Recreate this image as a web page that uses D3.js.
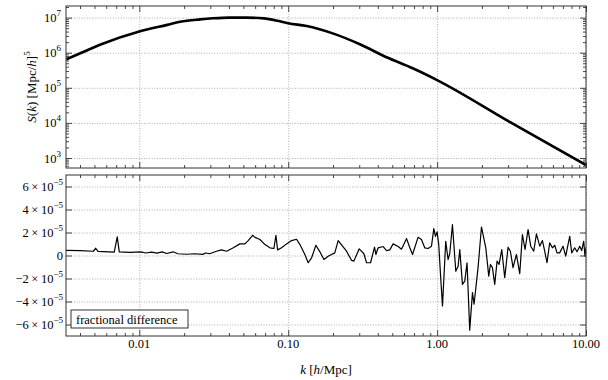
<!DOCTYPE html>
<html>
<head>
<meta charset="utf-8">
<script src="https://cdn.jsdelivr.net/npm/d3@7"></script>
<style>
  body { margin: 0; background: #fff; }
  .grid line { stroke: #999; stroke-dasharray: 1, 1.6; stroke-width: 0.8; }
  .grid .domain, .ticks .domain { display: none; }
  .ticks line { stroke: #333; stroke-width: 0.9; }
</style>
</head>
<body>
<script>
// ==================== Data ============================
// Top panel: S(k)
const kS = [0.00324, 0.0042, 0.0055, 0.01, 0.0154, 0.0188, 0.0256, 0.0313, 0.0404, 0.0525, 0.0686,
            0.085, 0.1, 0.133, 0.199, 0.303, 0.458, 0.686, 1.0, 3.07, 10];
const S  = [6.5e5, 1.05e6, 1.71e6, 4.0e6, 6.2e6, 7.6e6, 8.9e6, 9.55e6, 1.0e7, 1.0e7, 9.5e6,
            8.1e6, 6.9e6, 5.75e6, 3.55e6, 1.74e6, 7.4e5, 3.6e5, 1.66e5, 1.07e4, 630];

// Bottom panel: fractional difference, in units of 1e-5
const kD = [0.00322, 0.0040, 0.00491, 0.0051, 0.00528, 0.00679, 0.00711, 0.00734, 0.00865, 0.01026,
            0.01107, 0.0121, 0.01312, 0.01425, 0.0153, 0.01687, 0.01815, 0.02075, 0.0236, 0.0267,
            0.0279, 0.0297, 0.033, 0.0356, 0.0386, 0.0428, 0.0474, 0.0512, 0.0539, 0.0577,
            0.0598, 0.0646, 0.0698, 0.0754, 0.0802, 0.0827, 0.0849, 0.0903, 0.0975, 0.1054,
            0.1138, 0.1199, 0.1294, 0.1362, 0.1436, 0.1535, 0.1633, 0.1738, 0.1855, 0.2056,
            0.2166, 0.2317, 0.2466, 0.2666, 0.2761, 0.2998, 0.3224, 0.336, 0.3573, 0.38,
            0.388, 0.4018, 0.4345, 0.4576, 0.4813, 0.5066, 0.5474, 0.5768, 0.6237, 0.6561,
            0.6839, 0.7447, 0.7852, 0.826, 0.87, 0.917, 0.9506, 0.975, 1.0, 1.026,
            1.054, 1.087, 1.143, 1.185, 1.216, 1.268, 1.335, 1.384, 1.42, 1.48,
            1.534, 1.589, 1.656, 1.728, 1.771, 1.884, 1.986, 2.123, 2.223, 2.281,
            2.353, 2.438, 2.528, 2.608, 2.718, 2.846, 2.997, 3.106, 3.236, 3.41,
            3.589, 3.741, 3.897, 4.083, 4.255, 4.457, 4.647, 4.89, 5.097, 5.281,
            5.471, 5.704, 5.946, 6.166, 6.383, 6.653, 7.01, 7.308, 7.573, 7.776,
            8.017, 8.396, 8.703, 9.075, 9.355, 9.65, 9.85, 10.0];
const D  = [0.45, 0.42, 0.37, 0.63, 0.36, 0.29, 1.62, 0.32, 0.28, 0.32,
            0.22, 0.29, 0.20, 0.32, 0.17, 0.32, 0.15, 0.11, 0.15, 0.10,
            0.22, 0.15, 0.37, 0.49, 0.37, 0.67, 1.01, 1.01, 1.30, 1.76,
            1.58, 1.39, 0.95, 0.67, 0.61, 1.76, 0.49, 0.67, 1.01, 1.30,
            1.41, 0.95, 0.09, -0.63, -0.20, 0.89, 0.32, -0.35, -0.06, 0.23,
            1.30, 0.81, 0.37, -0.43, -0.49, 0.58, 0.15, -0.63, -0.63, 0.72,
            0.09, 0.67, 0.78, 0.43, 0.49, 1.01, 0.78, 0.55, 1.47, 0.67,
            0.09, 1.58, 1.39, 0.67, 0.61, 0.81, 2.34, 1.67, 2.05, 0.95,
            -1.65, -4.39, 1.24, -0.35, 0.15, 2.68, -1.36, -0.93, 0.52, -2.51,
            -2.23, -0.63, -6.49, -3.23, -4.24, -1.06, 2.48, 0.67, -1.79, -0.78,
            -1.06, -2.51, -0.49, -0.78, 0.52, -1.93, 0.72, 0.37, -1.06, 0.09,
            -1.58, 1.82, 0.52, 2.25, 0.81, 0.37, 1.88, 0.81, 1.30, 0.37,
            -0.63, 1.10, 0.67, 0.89, 0.23, 0.23, 0.81, -0.06, 0.95, 1.67,
            0.23, 0.67, 0.32, 0.81, 0.43, 1.24, -0.06, 0.69];

// Tick values and labels
const xTicks = [0.01, 0.1, 1, 10];
const xTickLabels = ['0.01', '0.10', '1.00', '10.00'];
const sTicks = [1e3, 1e4, 1e5, 1e6, 1e7];
const sExponents = ['3', '4', '5', '6', '7'];
const dTicks = [-6e-5, -4e-5, -2e-5, 0, 2e-5, 4e-5, 6e-5];
const dMantissas = ['\u22126', '\u22124', '\u22122', '0', '2', '4', '6'];

// ==================== Set up ============================
const W = 608, H = 380;
const left = 66, right = 586;
const top1 = 6, bot1 = 168, top2 = 175, bot2 = 336;
const serif = 'Liberation Serif';

const svg = d3.select('body').append('svg')
    .attr('width', W)
    .attr('height', H);

const x = d3.scaleLog().domain([0.00322, 10]).range([left, right]);
const yS = d3.scaleLog().domain([519, 2.14e7]).range([bot1, top1]);
const yD = d3.scaleLinear().domain([-7e-5, 7e-5]).range([bot2, top2]);

// minor ticks 2..9 x 10^n inside a domain
const minorLog = (lo, hi) => {
  const out = [];
  for (let e = Math.floor(Math.log10(lo)); e <= Math.ceil(Math.log10(hi)); e++) {
    for (let m = 2; m <= 9; m++) {
      const v = m * Math.pow(10, e);
      if (v > lo && v < hi) out.push(v);
    }
  }
  return out;
};
const minorX = minorLog(0.00322, 10);
const minorS = minorLog(519, 2.14e7);

// ==================== Panels ============================
const drawPanel = (yScale, top, bot, yMajor, yMinor) => {
  // gridlines
  svg.append('g').attr('class', 'grid')
      .attr('transform', `translate(0, ${bot})`)
      .call(d3.axisBottom(x).tickValues(xTicks).tickSize(-(bot - top)).tickFormat(''));
  svg.append('g').attr('class', 'grid')
      .attr('transform', `translate(${left}, 0)`)
      .call(d3.axisLeft(yScale).tickValues(yMajor).tickSize(-(right - left)).tickFormat(''));

  // inward ticks on all four sides
  [[xTicks, -6], [minorX, -3]].forEach(([vals, size]) => {
    svg.append('g').attr('class', 'ticks')
        .attr('transform', `translate(0, ${bot})`)
        .call(d3.axisBottom(x).tickValues(vals).tickSize(size).tickFormat(''));
    svg.append('g').attr('class', 'ticks')
        .attr('transform', `translate(0, ${top})`)
        .call(d3.axisTop(x).tickValues(vals).tickSize(size).tickFormat(''));
  });
  [[yMajor, -6], [yMinor, -3]].forEach(([vals, size]) => {
    svg.append('g').attr('class', 'ticks')
        .attr('transform', `translate(${left}, 0)`)
        .call(d3.axisLeft(yScale).tickValues(vals).tickSize(size).tickFormat(''));
    svg.append('g').attr('class', 'ticks')
        .attr('transform', `translate(${right}, 0)`)
        .call(d3.axisRight(yScale).tickValues(vals).tickSize(size).tickFormat(''));
  });
};

drawPanel(yS, top1, bot1, sTicks, minorS);
drawPanel(yD, top2, bot2, dTicks, []);

// clip paths for the data
const addClip = (id, top, bot) => {
  svg.append('clipPath').attr('id', id)
    .append('rect')
      .attr('x', left).attr('y', top)
      .attr('width', right - left).attr('height', bot - top);
};
addClip('clipTop', top1, bot1);
addClip('clipBot', top2, bot2);

// S(k) curve
const lineS = d3.line()
    .curve(d3.curveMonotoneX)
    .x((d, i) => x(kS[i]))
    .y((d) => yS(d));
svg.append('path')
    .datum(S)
    .attr('clip-path', 'url(#clipTop)')
    .attr('fill', 'none')
    .attr('stroke', '#000')
    .attr('stroke-width', 2.6)
    .attr('d', lineS);

// fractional difference curve
const lineD = d3.line()
    .x((d, i) => x(kD[i]))
    .y((d) => yD(d * 1e-5));
svg.append('path')
    .datum(D)
    .attr('clip-path', 'url(#clipBot)')
    .attr('fill', 'none')
    .attr('stroke', '#000')
    .attr('stroke-width', 1.2)
    .attr('stroke-linejoin', 'round')
    .attr('d', lineD);

// frames
[[top1, bot1], [top2, bot2]].forEach(([t, b]) => {
  svg.append('rect')
      .attr('x', left).attr('y', t)
      .attr('width', right - left).attr('height', b - t)
      .attr('fill', 'none')
      .attr('stroke', '#333')
      .attr('stroke-width', 1);
});

// ==================== Labels ============================
const fs = 12.5;
const label = (xPos, yPos, anchor, size) => svg.append('text')
    .attr('x', xPos)
    .attr('y', yPos)
    .attr('text-anchor', anchor)
    .attr('font-family', serif)
    .attr('font-size', size);

// top y tick labels: 10^n
sTicks.forEach((v, i) => {
  const t = label(left - 5, yS(v) + 4.5, 'end', fs);
  t.append('tspan').text('10');
  t.append('tspan').attr('dy', -6).attr('font-size', 9).text(sExponents[i]);
});

// bottom y tick labels: m x 10^-5
dTicks.forEach((v, i) => {
  const t = label(left - 3, yD(v) + 4.5, 'end', fs);
  if (v === 0) {
    t.text('0');
  } else {
    t.append('tspan').text(dMantissas[i] + '\u2009\u00d7\u200910');
    t.append('tspan').attr('dy', -6).attr('font-size', 9).text('\u22125');
  }
});

// x tick labels
xTicks.forEach((v, i) => {
  label(x(v), 348, 'middle', fs).text(xTickLabels[i]);
});

// x axis title
const xt = label((left + right) / 2, 374, 'middle', 13);
xt.append('tspan').attr('font-style', 'italic').text('k');
xt.append('tspan').text(' [');
xt.append('tspan').attr('font-style', 'italic').text('h');
xt.append('tspan').text('/Mpc]');

// y axis title (top panel)
const yt = label(0, 0, 'middle', 13)
    .attr('transform', `translate(36, ${(top1 + bot1) / 2}) rotate(-90)`);
yt.append('tspan').attr('font-style', 'italic').text('S');
yt.append('tspan').text('(');
yt.append('tspan').attr('font-style', 'italic').text('k');
yt.append('tspan').text(') [Mpc/');
yt.append('tspan').attr('font-style', 'italic').text('h');
yt.append('tspan').text(']');
yt.append('tspan').attr('dy', -6).attr('font-size', 9).text('5');

// legend box
svg.append('rect')
    .attr('x', 71).attr('y', 310)
    .attr('width', 117).attr('height', 18)
    .attr('fill', '#fff')
    .attr('stroke', '#000')
    .attr('stroke-width', 0.8);
label(76, 323.5, 'start', 12.5).text('fractional difference');
</script>
</body>
</html>
